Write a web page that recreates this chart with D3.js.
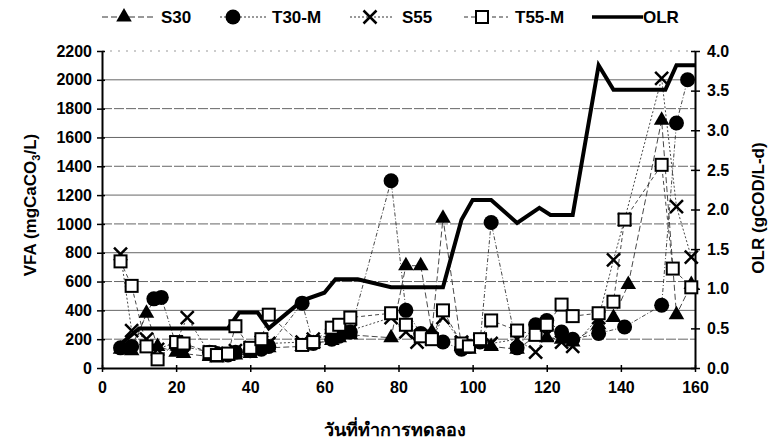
<!DOCTYPE html>
<html>
<head>
<meta charset="utf-8">
<script src="https://cdn.jsdelivr.net/npm/d3@7"></script>
<style>
  body { margin: 0; background: #fff; }
  text { font-family: "Liberation Sans", Arial, sans-serif; font-weight: bold; fill: #000; }
</style>
</head>
<body>
<div id="chart"></div>
<script>
// values: [day, value]
var s30 = [[5,130],[8,120],[12,380],[15,150],[20,110],[22,100],[29,80],[31,70],[34,80],[36,90],[40,100],[43,150],[45,140],
  [54,150],[57,170],[62,190],[64,210],[67,230],[78,210],[82,710],[86,710],[89,250],[92,1040],[97,150],[99,130],[102,170],
  [105,150],[112,130],[117,220],[120,210],[124,200],[127,180],[134,300],[138,350],[142,580],[151,1720],[155,370],[159,580]];
var t30m = [[5,140],[8,150],[14,480],[16,490],[20,160],[22,150],[29,110],[31,100],[34,90],[36,110],[40,120],[43,130],[45,150],
  [54,450],[57,170],[62,200],[64,220],[67,250],[78,1300],[82,400],[86,240],[89,220],[92,180],[97,130],[99,150],[102,180],
  [105,1010],[112,140],[117,300],[120,330],[124,250],[127,200],[134,240],[141,285],[151,435],[155,1700],[158,2000]];
var s55 = [[5,790],[8,260],[12,200],[15,130],[20,180],[23,350],[29,100],[31,90],[34,100],[36,120],[40,130],[43,180],[45,170],
  [54,180],[57,200],[62,230],[64,250],[67,260],[78,350],[82,250],[85,180],[89,200],[92,350],[97,180],[99,160],[102,190],
  [105,170],[112,200],[117,110],[120,230],[124,180],[127,150],[134,350],[138,750],[141,1030],[151,2010],[155,1120],[159,770]];
var t55m = [[5,740],[8,570],[12,150],[15,60],[20,180],[22,170],[29,110],[31,90],[34,100],[36,290],[40,140],[43,200],[45,370],
  [54,160],[57,180],[62,280],[64,300],[67,350],[78,380],[82,300],[86,220],[89,200],[92,400],[97,170],[99,150],[102,200],
  [105,330],[112,260],[117,230],[120,300],[124,440],[127,360],[134,380],[138,460],[141,1030],[151,1410],[154,690],[159,560]];
var olr = [[5,0.3],[10,0.5],[34,0.5],[37,0.7],[42,0.7],[45,0.5],[54,0.85],[60,0.95],[63,1.12],[69,1.12],[78,1.02],[92,1.02],
  [97,1.87],[100,2.12],[105,2.12],[112,1.83],[118,2.02],[121,1.93],[127,1.93],[134,3.82],[138,3.51],[152,3.51],[155,3.82],[160,3.82]];

var xTicks = [0, 20, 40, 60, 80, 100, 120, 140, 160];
var yTicks = [0, 200, 400, 600, 800, 1000, 1200, 1400, 1600, 1800, 2000, 2200];
var y2Ticks = [0, 0.5, 1.0, 1.5, 2.0, 2.5, 3.0, 3.5, 4.0];

var margin = { top: 51, right: 73, bottom: 76, left: 102 },
    width = 768 - margin.left - margin.right,
    height = 444 - margin.top - margin.bottom;

var svg = d3.select("#chart")
    .append("svg")
    .attr("width", 768)
    .attr("height", 444)
    .append("g")
    .attr("transform", "translate(" + margin.left + "," + margin.top + ")");

var x = d3.scaleLinear().domain([0, 160]).range([0, width]);
var y = d3.scaleLinear().domain([0, 2200]).range([height, 0]);
var y2 = d3.scaleLinear().domain([0, 4]).range([height, 0]);

// grid lines
svg.append("g")
    .selectAll("line")
    .data(yTicks.slice(1))
    .enter()
    .append("line")
    .attr("x1", 0).attr("x2", width)
    .attr("y1", function (d) { return y(d); })
    .attr("y2", function (d) { return y(d); })
    .style("stroke", function (d) { return d == 2200 ? "#999" : "#666"; })
    .style("stroke-width", 1)
    .style("stroke-dasharray", function (d) { return d == 2200 ? "2,6" : (d % 400 == 200 ? "10,2" : null); });

// axes
function styleAxis(g) {
    g.selectAll("path").style("stroke", "#000").style("stroke-width", 2);
    g.selectAll("line").style("stroke", "#000").style("stroke-width", 1.5);
    g.selectAll("text").style("font-size", "16px").style("font-weight", "bold")
        .style("font-family", "'Liberation Sans', Arial, sans-serif");
}
var xAxis = svg.append("g")
    .attr("transform", "translate(0," + height + ")")
    .call(d3.axisBottom(x).tickValues(xTicks).tickSize(4).tickSizeOuter(0).tickPadding(10));
xAxis.selectAll(".tick line").attr("y1", -3);
styleAxis(xAxis);

var yAxis = svg.append("g")
    .call(d3.axisLeft(y).tickValues(yTicks).tickSize(5).tickSizeOuter(0).tickPadding(5)
        .tickFormat(d3.format("d")));
yAxis.selectAll(".tick line").attr("x2", 3).attr("x1", -5);
styleAxis(yAxis);

var y2Axis = svg.append("g")
    .attr("transform", "translate(" + width + ",0)")
    .call(d3.axisRight(y2).tickValues(y2Ticks).tickSize(5).tickSizeOuter(0).tickPadding(7)
        .tickFormat(d3.format(".1f")));
y2Axis.selectAll(".tick line").attr("x1", -4);
styleAxis(y2Axis);

// series lines
var line = d3.line()
    .x(function (d) { return x(d[0]); })
    .y(function (d) { return y(d[1]); });
var series = [
    { name: "S30", data: s30, dash: "6,3", shape: "tri" },
    { name: "T30-M", data: t30m, dash: "4,2,1,2", shape: "circle" },
    { name: "S55", data: s55, dash: "2,2", shape: "x" },
    { name: "T55-M", data: t55m, dash: "4,3", shape: "square" }
];
series.forEach(function (s) {
    svg.append("path")
        .datum(s.data)
        .attr("d", line)
        .style("fill", "none")
        .style("stroke", "#333")
        .style("stroke-width", 0.9)
        .style("stroke-dasharray", s.dash);
});

// OLR line on right axis
var olrLine = d3.line()
    .x(function (d) { return x(d[0]); })
    .y(function (d) { return y2(d[1]); });
svg.append("path")
    .datum(olr)
    .attr("d", olrLine)
    .style("fill", "none")
    .style("stroke", "#000")
    .style("stroke-width", 4)
    .style("stroke-linejoin", "miter");

// markers
function drawMarker(g, shape) {
    if (shape == "tri") {
        g.append("path").attr("d", d3.symbol().type(d3.symbolTriangle).size(105)).style("fill", "#000");
    } else if (shape == "circle") {
        g.append("circle").attr("r", 7.5).style("fill", "#000");
    } else if (shape == "x") {
        g.append("path").attr("d", "M-6.5,-6.5L6.5,6.5M-6.5,6.5L6.5,-6.5").style("stroke", "#000").style("stroke-width", 2.5);
    } else {
        g.append("rect").attr("x", -6).attr("y", -6).attr("width", 12).attr("height", 12)
            .style("fill", "#fff").style("stroke", "#000").style("stroke-width", 2);
    }
}
series.forEach(function (s) {
    svg.append("g")
        .selectAll("g")
        .data(s.data)
        .enter()
        .append("g")
        .attr("transform", function (d) { return "translate(" + x(d[0]) + "," + y(d[1]) + ")"; })
        .each(function () { drawMarker(d3.select(this), s.shape); });
});

// legend
var legendItems = [
    { name: "S30", x1: 0, x2: 51, mx: 22, tx: 59, dash: "6,3", shape: "tri" },
    { name: "T30-M", x1: 118, x2: 164, mx: 131, tx: 170, dash: "2,2", shape: "circle" },
    { name: "S55", x1: 248, x2: 292, mx: 268, tx: 300, dash: "2,2", shape: "x" },
    { name: "T55-M", x1: 362, x2: 406, mx: 380, tx: 413, dash: "4,3", shape: "square" }
];
var legend = d3.select("svg").append("g").attr("transform", "translate(102,17)");
legendItems.forEach(function (d) {
    legend.append("line").attr("x1", d.x1).attr("x2", d.x2)
        .style("stroke", "#333").style("stroke-width", 1).style("stroke-dasharray", d.dash);
    drawMarker(legend.append("g").attr("transform", "translate(" + d.mx + ",0)"), d.shape);
    legend.append("text").attr("x", d.tx).attr("y", 6).style("font-size", "17px").text(d.name);
});
legend.append("line").attr("x1", 490).attr("x2", 541).style("stroke", "#000").style("stroke-width", 3.5);
legend.append("text").attr("x", 541).attr("y", 6).style("font-size", "17px").text("OLR");

// axis titles
var root = d3.select("svg");
root.append("text")
    .attr("transform", "translate(36,205) rotate(-90)")
    .attr("text-anchor", "middle")
    .style("font-size", "17px")
    .html("VFA (mgCaCO<tspan dy='4' font-size='11px'>3</tspan><tspan dy='-4'>/L)</tspan>");
root.append("text")
    .attr("transform", "translate(764,208) rotate(-90)")
    .attr("text-anchor", "middle")
    .style("font-size", "17px")
    .text("OLR (gCOD/L-d)");
root.append("text")
    .attr("x", 395)
    .attr("y", 436)
    .attr("text-anchor", "middle")
    .style("font-size", "18px")
    .text("วันที่ทำการทดลอง");
</script>
</body>
</html>
